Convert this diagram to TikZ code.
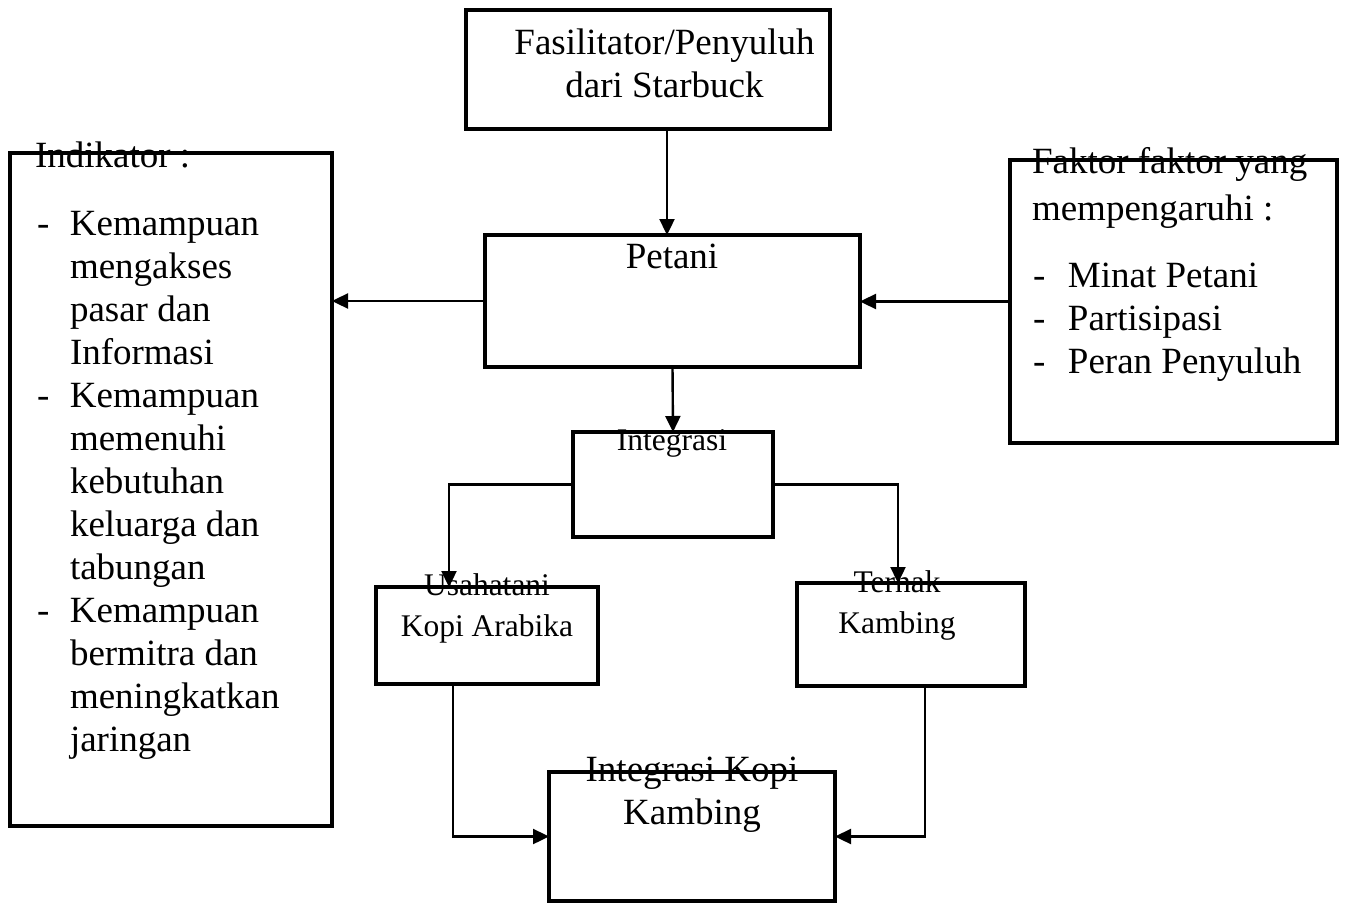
\documentclass[tikz,border=0pt]{standalone}
\usepackage{fontspec}
\setmainfont{Liberation Serif}
\usetikzlibrary{arrows.meta}
\begin{document}
\begin{tikzpicture}[x=1pt,y=-1pt,
  box/.style={draw,line width=3.5pt,inner sep=0pt,outer sep=0pt},
  big/.style={font=\fontsize{37}{43}\selectfont},
  small/.style={font=\fontsize{31.5}{41}\selectfont},
  conn/.style={line width=2.4pt},
  arr/.style={conn,-{Triangle[length=16pt,width=15pt]}},
  txt/.style={inner sep=0pt,outer sep=0pt,anchor=base,align=center},
  ltxt/.style={inner sep=0pt,outer sep=0pt,anchor=base west,align=left}]
\useasboundingbox (0,0) rectangle (1346,904);

% boxes
\node[box,minimum width=364pt,minimum height=119pt] (fas) at (648,69.5) {};
\node[box,minimum width=375pt,minimum height=132pt] (petani) at (672.5,301) {};
\node[box,minimum width=322pt,minimum height=673pt] (indik) at (171,489.5) {};
\node[box,minimum width=327pt,minimum height=283pt] (faktor) at (1173.5,301.5) {};
\node[box,minimum width=200pt,minimum height=105pt] (integ) at (673,484.5) {};
\node[box,minimum width=222pt,minimum height=97pt] (usaha) at (487,635.5) {};
\node[box,minimum width=228pt,minimum height=103pt] (ternak) at (911,634.5) {};
\node[box,minimum width=286pt,minimum height=129pt] (final) at (692,836.5) {};

% texts (multi-line nodes are placed by the baseline of their last line)
\node[txt,big] (tfas) at (664.5,98) {Fasilitator/Penyuluh\\dari Starbuck};
\node[txt,big] (tpet) at (672,268) {Petani};
\node[txt,small] (tint) at (672,450) {Integrasi};
\node[txt,small] (tusa) at (487,636) {Usahatani\\Kopi Arabika};
\node[txt,small] (tter) at (897,633) {Ternak\\Kambing};
\node[txt,big] (tfin) at (692,824) {Integrasi Kopi\\Kambing};
\node[ltxt,big] (tind) at (35,168) {Indikator :};
\node[ltxt,big] (tindl) at (37,751) {\makebox[33pt][l]{-}Kemampuan\\
\hspace*{33pt}mengakses\\
\hspace*{33pt}pasar dan\\
\hspace*{33pt}Informasi\\
\makebox[33pt][l]{-}Kemampuan\\
\hspace*{33pt}memenuhi\\
\hspace*{33pt}kebutuhan\\
\hspace*{33pt}keluarga dan\\
\hspace*{33pt}tabungan\\
\makebox[33pt][l]{-}Kemampuan\\
\hspace*{33pt}bermitra dan\\
\hspace*{33pt}meningkatkan\\
\hspace*{33pt}jaringan};
\node[ltxt,font=\fontsize{37}{47}\selectfont] (tfak) at (1032,220) {Faktor faktor yang\\mempengaruhi :};
\node[ltxt,big] (tfakl) at (1033,373) {\makebox[35pt][l]{-}Minat Petani\\
\makebox[35pt][l]{-}Partisipasi\\
\makebox[35pt][l]{-}Peran Penyuluh};

% connectors
\draw[arr] (667,0 |- fas.south) -- (667,0 |- petani.north);
\draw[arr] (petani.west) -- (petani.west -| indik.east);
\draw[arr] (faktor.west) -- (faktor.west -| petani.east);
\draw[arr] (petani.south) -- (integ.north);
\draw[arr] (integ.west) -| (usaha.north -| 449,0);
\draw[arr] (integ.east) -| (ternak.north -| 898,0);
\draw[arr] (usaha.south -| 453,0) |- (final.west);
\draw[arr] (ternak.south -| 925,0) |- (final.east);
\end{tikzpicture}
\end{document}
